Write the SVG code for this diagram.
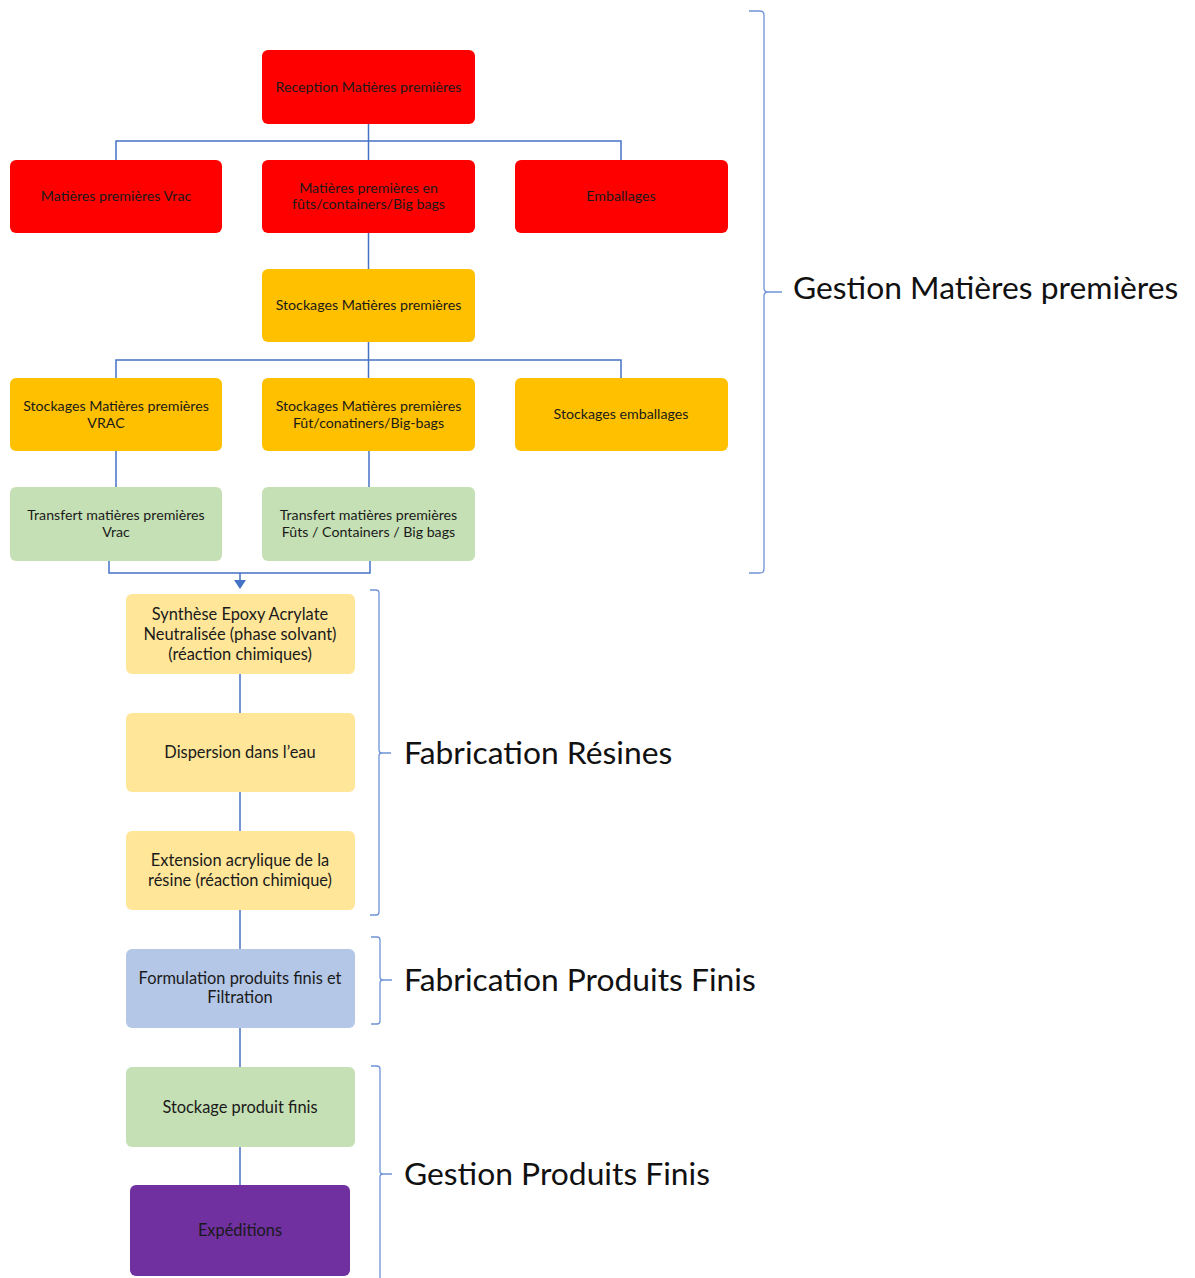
<svg xmlns="http://www.w3.org/2000/svg" width="1195" height="1278" viewBox="0 0 1195 1278">
<style>
.n{stroke:none}
.red{fill:#FF0000}
.org{fill:#FFC000}
.grn{fill:#C5E0B4}
.yel{fill:#FFE699}
.blu{fill:#B4C7E7}
.pur{fill:#7030A0}
.t{font-family:Lato,"Open Sans",sans-serif;fill:#1a1a1a;text-anchor:middle;dominant-baseline:central}
.s{font-size:14.2px}
.m{font-size:16.4px}
.big{font-family:Lato,"Open Sans",sans-serif;fill:#111;font-size:31.8px;dominant-baseline:central}
.c{fill:none;stroke:#4472C4;stroke-width:1.5}
.b{fill:none;stroke:#6F93D6;stroke-width:1.3}
</style>
<g id="connectors">
<path class="c" d="M368.5 124 V160"/>
<path class="c" d="M116 160 V141 H621 V160"/>
<path class="c" d="M368.5 233 V269"/>
<path class="c" d="M368.5 342 V378"/>
<path class="c" d="M116 378 V360 H621 V378"/>
<path class="c" d="M116 451 V487"/>
<path class="c" d="M369 451 V487"/>
<path class="c" d="M109 561 V573 H370 V561"/>
<path class="c" d="M240 573 V580"/>
<path d="M234 580 H246 L240 589 Z" fill="#4472C4"/>
<path class="c" d="M240 674 V713"/>
<path class="c" d="M240 792 V831"/>
<path class="c" d="M240 910 V949"/>
<path class="c" d="M240 1028 V1067"/>
<path class="c" d="M240 1147 V1185"/>
</g>
<g id="brackets">
<path class="b" d="M749 11 H760 Q764 11 764 15 V288 Q764 292 768 292 H782 M768 292 Q764 292 764 296 V569 Q764 573 760 573 H749"/>
<path class="b" d="M370 590 H376 Q379 590 379 593 V750 Q379 753 382 753 H391 M382 753 Q379 753 379 756 V912 Q379 915 376 915 H370"/>
<path class="b" d="M371 937 H377 Q380 937 380 940 V977 Q380 980 383 980 H392 M383 980 Q380 980 380 983 V1021 Q380 1024 377 1024 H371"/>
<path class="b" d="M371 1066 H377 Q380 1066 380 1069 V1171 Q380 1174 383 1174 H392 M383 1174 Q380 1174 380 1177 V1280"/>
</g>
<g id="labels">
<text class="big" x="793" y="287">Gestion Matières premières</text>
<text class="big" x="404" y="752">Fabrication Résines</text>
<text class="big" x="404" y="979">Fabrication Produits Finis</text>
<text class="big" x="404" y="1173">Gestion Produits Finis</text>
</g>
<g id="n1"><rect class="n red" x="262" y="50" width="213" height="74" rx="6"/><text class="t s" x="368.5" y="86">Reception Matières premières</text></g>
<g id="n2"><rect class="n red" x="10" y="160" width="212" height="73" rx="6"/><text class="t s" x="116" y="195">Matières premières Vrac</text></g>
<g id="n3"><rect class="n red" x="262" y="160" width="213" height="73" rx="6"/><text class="t s" x="368.5" y="187">Matières premières en</text><text class="t s" x="368.5" y="203">fûts/containers/Big bags</text></g>
<g id="n4"><rect class="n red" x="515" y="160" width="213" height="73" rx="6"/><text class="t s" x="621" y="195">Emballages</text></g>
<g id="n5"><rect class="n org" x="262" y="269" width="213" height="73" rx="6"/><text class="t s" x="368.5" y="304">Stockages Matières premières</text></g>
<g id="n6"><rect class="n org" x="10" y="378" width="212" height="73" rx="6"/><text class="t s" x="116" y="405">Stockages Matières premières</text><text class="t s" x="106" y="422">VRAC</text></g>
<g id="n7"><rect class="n org" x="262" y="378" width="213" height="73" rx="6"/><text class="t s" x="368.5" y="405">Stockages Matières premières</text><text class="t s" x="368.5" y="422">Fût/conatiners/Big-bags</text></g>
<g id="n8"><rect class="n org" x="515" y="378" width="213" height="73" rx="6"/><text class="t s" x="621" y="413">Stockages emballages</text></g>
<g id="n9"><rect class="n grn" x="10" y="487" width="212" height="74" rx="6"/><text class="t s" x="116" y="514">Transfert matières premières</text><text class="t s" x="116" y="531">Vrac</text></g>
<g id="n10"><rect class="n grn" x="262" y="487" width="213" height="74" rx="6"/><text class="t s" x="368.5" y="514">Transfert matières premières</text><text class="t s" x="368.5" y="531">Fûts / Containers / Big bags</text></g>
<g id="n11"><rect class="n yel" x="126" y="594" width="229" height="80" rx="6"/><text class="t m" x="240" y="613">Synthèse Epoxy Acrylate</text><text class="t m" x="240" y="633">Neutralisée (phase solvant)</text><text class="t m" x="240" y="653">(réaction chimiques)</text></g>
<g id="n12"><rect class="n yel" x="126" y="713" width="229" height="79" rx="6"/><text class="t m" x="240" y="751">Dispersion dans l’eau</text></g>
<g id="n13"><rect class="n yel" x="126" y="831" width="229" height="79" rx="6"/><text class="t m" x="240" y="859">Extension acrylique de la</text><text class="t m" x="240" y="879">résine (réaction chimique)</text></g>
<g id="n14"><rect class="n blu" x="126" y="949" width="229" height="79" rx="6"/><text class="t m" x="240" y="977">Formulation produits finis et</text><text class="t m" x="240" y="996">Filtration</text></g>
<g id="n15"><rect class="n grn" x="126" y="1067" width="229" height="80" rx="6"/><text class="t m" x="240" y="1106">Stockage produit finis</text></g>
<g id="n16"><rect class="n pur" x="130" y="1185" width="220" height="91" rx="6"/><text class="t m" x="240" y="1229">Expéditions</text></g>
</svg>
